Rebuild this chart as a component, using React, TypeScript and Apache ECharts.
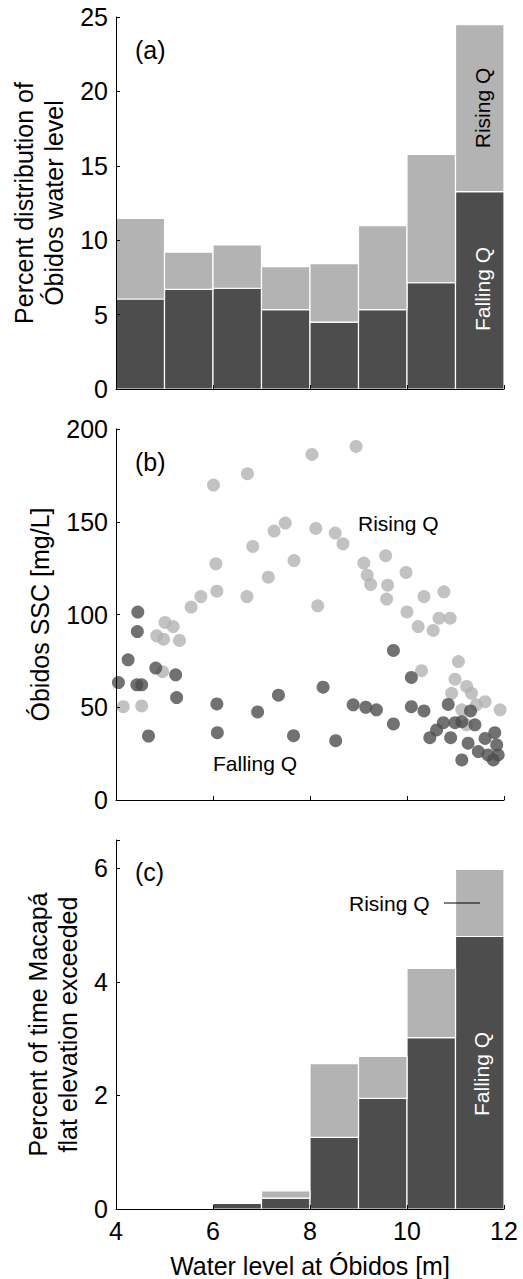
import React, { useEffect, useRef } from "react";
import * as echarts from "echarts";

// Water-level bins at Óbidos [m] (left edges; each bin is 1 m wide)
const binStarts = [4, 5, 6, 7, 8, 9, 10, 11];
const binWidth = 1;

// (a) Percent distribution of Óbidos water level
const distFalling = [6.05, 6.7, 6.77, 5.33, 4.5, 5.33, 7.14, 13.26];
const distRising = [5.42, 2.49, 2.91, 2.89, 3.92, 5.64, 8.63, 11.22];

// (c) Percent of time Macapá flat elevation exceeded
const exceedFalling = [0, 0, 0.1, 0.19, 1.26, 1.95, 3.02, 4.8];
const exceedRising = [0, 0, 0, 0.13, 1.3, 0.74, 1.22, 1.18];

// (b) Óbidos SSC [mg/L] vs water level [m]
const sscRising: [number, number][] = [
  [4.15, 50.3], [4.53, 50.7], [4.84, 88.5], [4.98, 86.7], [4.96, 69.2],
  [5.01, 95.7], [5.18, 93.5], [5.31, 86], [5.55, 104], [5.75, 109.7],
  [6.01, 169.8], [6.06, 127.3], [6.08, 112.6], [6.7, 109.7], [6.71, 175.9],
  [6.82, 136.7], [7.14, 120.1], [7.26, 145], [7.49, 149.3], [7.67, 129.1],
  [8.04, 186.3], [8.12, 146.4], [8.16, 104.7], [8.52, 143.9], [8.68, 138.1],
  [8.95, 190.6], [9.11, 127.7], [9.18, 121.2], [9.25, 116.2], [9.56, 131.7],
  [9.6, 115.8], [9.58, 108.3], [9.98, 122.7], [10.0, 101.4], [10.23, 93.5],
  [10.35, 109.7], [10.3, 69.7], [10.54, 91.4], [10.66, 98], [10.76, 112.2],
  [10.89, 98], [11.06, 74.6], [10.99, 65.1], [11.23, 61.2], [10.92, 57.5],
  [11.33, 57.5], [11.61, 53], [11.92, 48.6], [11.43, 51.3], [11.13, 48.6],
  [11.23, 40.5],
];
const sscFalling: [number, number][] = [
  [4.05, 63.3], [4.25, 75.6], [4.45, 101.3], [4.44, 90.8], [4.43, 62.1],
  [4.53, 62.1], [4.67, 34.5], [4.82, 71.1], [5.23, 67.5], [5.25, 55.2],
  [6.08, 51.8], [6.09, 36.3], [6.92, 47.5], [7.35, 56.5], [7.66, 34.7],
  [8.27, 60.8], [8.53, 32], [8.89, 51.3], [9.15, 50], [9.37, 48.6],
  [9.72, 80.6], [9.72, 41], [10.09, 66.1], [10.09, 50.3], [10.35, 48],
  [10.47, 33.6], [10.61, 37.8], [10.75, 41.7], [10.99, 41.7], [10.85, 51.5],
  [10.9, 33.6], [11.13, 42.2], [11.31, 48], [11.4, 40.5], [11.26, 30.6],
  [11.61, 33.2], [11.81, 36.3], [11.85, 29.7], [11.47, 26.1], [11.67, 24.3],
  [11.88, 24.3], [11.78, 21.6], [11.13, 21.6],
];

const DARK = "#4d4d4d";
const LIGHT = "#b3b3b3";
const FONT = '"Liberation Sans", Arial, Helvetica, sans-serif';

// Stacked histogram rectangles: [x0, x1, y0, y1]
function stackRects(lower: number[], upper: number[]) {
  const low: number[][] = [];
  const up: number[][] = [];
  binStarts.forEach((x0, i) => {
    const x1 = x0 + binWidth;
    if (lower[i] > 0) low.push([x0, x1, 0, lower[i]]);
    if (upper[i] > 0) up.push([x0, x1, lower[i], lower[i] + upper[i]]);
  });
  return { low, up };
}

function rectRenderer(fill: string) {
  return (_params: any, api: any) => {
    const p0 = api.coord([api.value(0), api.value(3)]);
    const p1 = api.coord([api.value(1), api.value(2)]);
    return {
      type: "rect",
      shape: { x: p0[0], y: p0[1], width: p1[0] - p0[0], height: p1[1] - p0[1] },
      style: { fill, stroke: "#ffffff", lineWidth: 1.2 },
    };
  };
}

const axisLine = { show: true, lineStyle: { color: "#000", width: 1 } };
const axisTick = { show: true, inside: true, length: 4, lineStyle: { color: "#000", width: 1 } };

function xAxisFor(gridIndex: number, withLabels: boolean) {
  return {
    type: "value",
    gridIndex,
    min: 4,
    max: 12,
    interval: 2,
    z: 3,
    axisLine,
    axisTick,
    splitLine: { show: false },
    axisLabel: withLabels
      ? { show: true, fontSize: 25, color: "#000", fontFamily: FONT, margin: 9 }
      : { show: false },
    name: withLabels ? "Water level at Óbidos [m]" : "",
    nameLocation: "middle",
    nameGap: 44,
    nameTextStyle: { fontSize: 25, color: "#000", fontFamily: FONT },
  };
}

function yAxisFor(gridIndex: number, max: number, interval: number, name: string, nameGap: number) {
  return {
    type: "value",
    gridIndex,
    min: 0,
    max,
    interval,
    z: 3,
    axisLine,
    axisTick,
    splitLine: { show: false },
    axisLabel: {
      fontSize: 25,
      color: "#000",
      fontFamily: FONT,
      margin: 8,
      formatter: (v: number) => (v % interval === 0 ? String(v) : ""),
    },
    name,
    nameLocation: "middle",
    nameRotate: 90,
    nameGap,
    nameTextStyle: { fontSize: 25, color: "#000", fontFamily: FONT, lineHeight: 30 },
  };
}

function label(text: string, x: number, y: number, opts: any = {}) {
  return {
    type: "text",
    x,
    y,
    rotation: opts.rotation || 0,
    z: 10,
    style: {
      text,
      fill: opts.fill || "#000",
      font: `${opts.size || 21}px ${FONT}`,
      textAlign: opts.align || "left",
      align: opts.align || "left",
      textVerticalAlign: "middle",
      verticalAlign: "middle",
    },
  };
}

export default function App() {
  const ref = useRef<HTMLDivElement>(null);

  useEffect(() => {
    if (!ref.current) return;
    const chart = echarts.init(ref.current, null, { renderer: "svg" });

    const dist = stackRects(distFalling, distRising);
    const exceed = stackRects(exceedFalling, exceedRising);

    const option: any = {
      animation: false,
      backgroundColor: "#ffffff",
      textStyle: { fontFamily: FONT },
      grid: [
        { left: 116, width: 388, top: 17, height: 372 },
        { left: 116, width: 388, top: 429, height: 371 },
        { left: 116, width: 388, top: 840, height: 372 },
      ],
      xAxis: [xAxisFor(0, false), xAxisFor(1, false), xAxisFor(2, true)],
      yAxis: [
        yAxisFor(0, 25, 5, "Percent distribution of\nÓbidos water level", 46),
        yAxisFor(1, 200, 50, "Óbidos SSC [mg/L]", 58),
        yAxisFor(2, 6.5, 2, "Percent of time Macapá\nflat elevation exceeded", 32),
      ],
      series: [
        {
          type: "custom",
          name: "Falling Q",
          xAxisIndex: 0,
          yAxisIndex: 0,
          renderItem: rectRenderer(DARK),
          encode: { x: [0, 1], y: [2, 3] },
          data: dist.low,
        },
        {
          type: "custom",
          name: "Rising Q",
          xAxisIndex: 0,
          yAxisIndex: 0,
          renderItem: rectRenderer(LIGHT),
          encode: { x: [0, 1], y: [2, 3] },
          data: dist.up,
        },
        {
          type: "scatter",
          name: "Rising Q",
          xAxisIndex: 1,
          yAxisIndex: 1,
          symbol: "circle",
          symbolSize: 13,
          itemStyle: { color: LIGHT },
          data: sscRising,
        },
        {
          type: "scatter",
          name: "Falling Q",
          xAxisIndex: 1,
          yAxisIndex: 1,
          symbol: "circle",
          symbolSize: 13,
          itemStyle: { color: DARK },
          data: sscFalling,
        },
        {
          type: "custom",
          name: "Falling Q",
          xAxisIndex: 2,
          yAxisIndex: 2,
          renderItem: rectRenderer(DARK),
          encode: { x: [0, 1], y: [2, 3] },
          data: exceed.low,
        },
        {
          type: "custom",
          name: "Rising Q",
          xAxisIndex: 2,
          yAxisIndex: 2,
          renderItem: rectRenderer(LIGHT),
          encode: { x: [0, 1], y: [2, 3] },
          data: exceed.up,
        },
      ],
      graphic: [
        label("(a)", 135, 50, { size: 25 }),
        label("Rising Q", 482, 108, { rotation: Math.PI / 2, align: "center" }),
        label("Falling Q", 482, 289, { rotation: Math.PI / 2, align: "center", fill: "#ffffff" }),
        label("(b)", 135, 462, { size: 25 }),
        label("Rising Q", 358, 523),
        label("Falling Q", 213, 763),
        label("(c)", 135, 872, { size: 25 }),
        label("Rising Q", 349, 903),
        {
          type: "line",
          z: 10,
          shape: { x1: 444, y1: 903, x2: 480, y2: 903 },
          style: { stroke: "#000", lineWidth: 1 },
        },
        label("Falling Q", 481, 1074, { rotation: Math.PI / 2, align: "center", fill: "#ffffff" }),
      ],
    };

    chart.setOption(option);
    return () => chart.dispose();
  }, []);

  return (
    <div
      ref={ref}
      style={{ position: "absolute", left: 0, top: 0, width: 523, height: 1279 }}
    />
  );
}
